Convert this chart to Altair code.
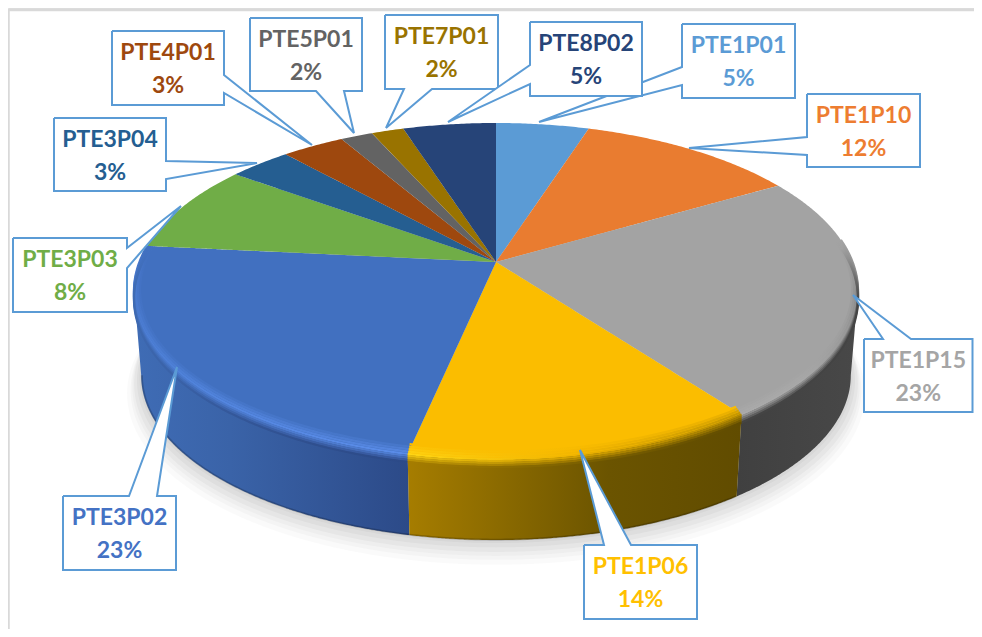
import math
import altair as alt
import pandas as pd

# ---- data ----
names = ["PTE1P01", "PTE1P10", "PTE1P15", "PTE1P06", "PTE3P02", "PTE3P03",
         "PTE3P04", "PTE4P01", "PTE5P01", "PTE7P01", "PTE8P02"]
shares = [4.9, 11.6, 23.4, 13.4, 23.3, 8.5, 3.3, 3.3, 1.7, 1.7, 4.9]
percent_labels = ["5%", "12%", "23%", "14%", "23%", "8%", "3%", "3%", "2%", "2%", "5%"]
face_colors = ["#5B9BD5", "#E97C30", "#A3A3A3", "#FBBD00", "#4170C0", "#70AD47",
               "#255E91", "#9E480E", "#636363", "#997300", "#264478"]
label_colors = ["#5B9BD5", "#ED7D31", "#A5A5A5", "#FFC000", "#4472C4", "#70AD47",
                "#255E91", "#9E480E", "#636363", "#997300", "#264478"]

# callout layout: box x0, y0, x1, y1, side of the tail, tail base a, tip x, tip y, tail base b
callouts = [
    (682, 24, 795, 98, "left", 85, 539, 122, 67),
    (807, 94, 920, 167, "left", 155, 689, 148, 137),
    (864, 339, 972.5, 412, "top", 883, 853, 295, 911),
    (584, 545, 697, 619, "top", 604, 580, 450, 631),
    (63, 496, 176, 570, "top", 129, 177, 367, 157),
    (13, 238, 127, 312, "right", 248, 181, 206, 268),
    (54, 118, 166, 191, "right", 161, 257, 163, 179),
    (112, 31, 224, 105, "right", 75, 312, 145, 93),
    (250, 18, 362, 91, "bottom", 344, 354, 133, 316),
    (385, 15, 498, 89, "bottom", 432, 386, 128, 404),
    (530, 22, 642, 96, "left", 84, 448, 122, 65),
]

# ---- pie geometry (perspective disc) ----
CX, CY, A, B, K = 496, 262, 356.6, 163, 0.1726
DEPTH, BOTTOM = 85, 0.98
SIL_R = math.degrees(math.acos(-K))
SIL_L = 360 - SIL_R


def pt(deg, sx=1.0, sy=1.0, dy=0.0):
    t = math.radians(deg)
    u, v = math.sin(t), math.cos(t)
    w = 1 + K * v
    return (CX + sx * A * u / w, CY - sy * B * v / w + dy)


def arc(d0, d1, sx=1.0, sy=1.0, dy=0.0):
    n = max(2, int(abs(d1 - d0) * 2))
    return [pt(d0 + (d1 - d0) * i / n, sx, sy, dy) for i in range(n + 1)]


def to_area(poly):
    xs = sorted({round(p[0], 2) for p in poly})
    rows = []
    m = len(poly)
    for x in xs:
        hits = []
        for i in range(m):
            (x1, y1), (x2, y2) = poly[i], poly[(i + 1) % m]
            x1r, x2r = round(x1, 2), round(x2, 2)
            if min(x1r, x2r) <= x <= max(x1r, x2r):
                if x1r == x2r:
                    hits += [y1, y2]
                else:
                    hits.append(y1 + (y2 - y1) * (x - x1r) / (x2r - x1r))
        rows.append({"x": x, "y": min(hits), "y2": max(hits)})
    return pd.DataFrame(rows)


X = alt.X("x:Q", scale=alt.Scale(domain=[8, 974], zero=False, nice=False), axis=None)
Y = alt.Y("y:Q", scale=alt.Scale(domain=[629, 8], zero=False, nice=False), axis=None)


def area(poly, **mark):
    return alt.Chart(to_area(poly)).mark_area(orient="vertical", **mark).encode(x=X, y=Y, y2="y2:Q")


def line(points, **mark):
    df = pd.DataFrame([{"x": p[0], "y": p[1], "i": i} for i, p in enumerate(points)])
    return alt.Chart(df).mark_line(**mark).encode(x=X, y=Y, order="i:Q")


def grad(stops, vertical=False):
    return {"gradient": "linear", "x1": 0, "y1": 0, "x2": 0 if vertical else 1, "y2": 1 if vertical else 0,
            "stops": [{"offset": o, "color": c} for o, c in stops]}


def mix(c1, c2, t):
    a = [int(c1[i:i + 2], 16) for i in (1, 3, 5)]
    b = [int(c2[i:i + 2], 16) for i in (1, 3, 5)]
    return "#%02x%02x%02x" % tuple(round(p + (q - p) * t) for p, q in zip(a, b))


layers = []

# frame
layers.append(line([(8.5, 629), (8.5, 10), (974, 10)], stroke="#d9d9d9", strokeWidth=2.5, strokeJoin="miter"))

# soft shadow
for grow, off, op in [(1.04, 20, .018), (1.03, 17, .022), (1.025, 14, .025), (1.02, 11, .03), (1.012, 8, .03), (1.005, 5, .03)]:
    layers.append(area(arc(0, 360, BOTTOM * grow, BOTTOM * grow, DEPTH + off - 3), color="#000000", opacity=op))

# cumulative boundaries
edges = [0.0]
for s in shares:
    edges.append(edges[-1] + s * 3.6)

# rim
rim_ranges = {2: (SIL_R, edges[3]), 3: (edges[3], edges[4]), 4: (edges[4], SIL_L)}
rim_stops = {
    2: [(0, "#404040"), (1, "#484848")],
    3: [(0, "#A67D00"), (.6, "#6B5400"), (1, "#614C00")],
    4: [(0, "#3F6CB5"), (.35, "#3A63A8"), (1, "#2C4A88")],
}
for i in (2, 4, 3):
    d0, d1 = rim_ranges[i]
    poly = arc(d0, d1) + arc(d1, d0, BOTTOM, BOTTOM, DEPTH)
    layers.append(area(poly, color=grad(rim_stops[i])))
layers.append(line(arc(edges[3], SIL_L, BOTTOM * 0.998, BOTTOM * 0.998, DEPTH), stroke="#000000", opacity=.2, strokeWidth=2))

# faces
for i in range(len(shares)):
    poly = [(CX, CY)] + arc(edges[i], edges[i + 1])
    layers.append(area(poly, color=face_colors[i]))

# bevel rings on the front of the disc
bevels = {
    2: (82, edges[3], True, [(0, "#A3A3A3", "#A3A3A3"), (.3, "#858585", "#444444"), (.8, "#A8A8A8", "#444444"), (1, "#ABABAB", "#444444")]),
    3: (edges[3], edges[4], False, [(0, "#FFD514", "#A67D00"), (.5, "#F0B400", "#7D6200"), (1, "#B58B00", "#614C00")]),
    4: (edges[4], edges[5], True, [(0, "#4170C0", "#4170C0"), (.15, "#4A7AD0", "#3F6CB5"), (.6, "#4F82DA", "#3A62A8"), (1, "#5A8CE8", "#2C4A88")]),
}
ring_offsets = [-8, -6, -4, -2, 0, 2, 4, 6, 8]
for i in (2, 4, 3):
    d0, d1, vertical, stops = bevels[i]
    F = face_colors[i]
    for d in ring_offsets:
        ring_stops = []
        for o, H, R in stops:
            c = mix(F, H, (d + 8) / 8) if d <= 0 else mix(H, R, d / 8)
            ring_stops.append((o, c))
        if d <= 0:
            pts = arc(d0, d1, 1 + d / 362, 1 + d * 1.25 / 197)
        else:
            pts = arc(d0, d1, 1, 1, d)
        layers.append(line(pts, stroke=grad(ring_stops, vertical), strokeWidth=2.2))

# callouts
STROKE = "#5B9BD5"
text_rows = []
for n, (x0, y0, x1, y1, side, a, tx, ty, b) in enumerate(callouts):
    if side == "top":
        outline = [(x0, y0), (a, y0), (tx, ty), (b, y0), (x1, y0), (x1, y1), (x0, y1), (x0, y0)]
        tail = [(a, y0), (tx, ty), (b, y0)]
    elif side == "right":
        outline = [(x0, y0), (x1, y0), (x1, a), (tx, ty), (x1, b), (x1, y1), (x0, y1), (x0, y0)]
        tail = [(x1, a), (tx, ty), (x1, b)]
    elif side == "bottom":
        outline = [(x0, y0), (x1, y0), (x1, y1), (a, y1), (tx, ty), (b, y1), (x0, y1), (x0, y0)]
        tail = [(a, y1), (tx, ty), (b, y1)]
    else:
        outline = [(x0, y0), (x1, y0), (x1, y1), (x0, y1), (x0, a), (tx, ty), (x0, b), (x0, y0)]
        tail = [(x0, a), (tx, ty), (x0, b)]
    layers.append(area([(x0, y0), (x1, y0), (x1, y1), (x0, y1)], color="#ffffff"))
    layers.append(area(tail, color="#ffffff"))
    layers.append(line(outline, stroke=STROKE, strokeWidth=2, strokeJoin="miter"))
    cx = (x0 + x1) / 2
    text_rows.append({"x": cx, "y": y0 + 22, "t": names[n], "c": label_colors[n]})
    text_rows.append({"x": cx, "y": y0 + 55, "t": percent_labels[n], "c": label_colors[n]})

layers.append(
    alt.Chart(pd.DataFrame(text_rows))
    .mark_text(font="Lato", fontWeight="bold", fontSize=23, baseline="middle", align="center")
    .encode(x=X, y=Y, text="t:N", color=alt.Color("c:N", scale=None, legend=None))
)

chart = (
    alt.layer(*layers)
    .properties(width=966, height=621, padding=0, autosize=alt.AutoSizeParams(type="none"))
    .configure_view(stroke=None)
    .configure(background="#ffffff")
)
chart.save("out.html", embed_options={"renderer": "svg", "actions": False})
